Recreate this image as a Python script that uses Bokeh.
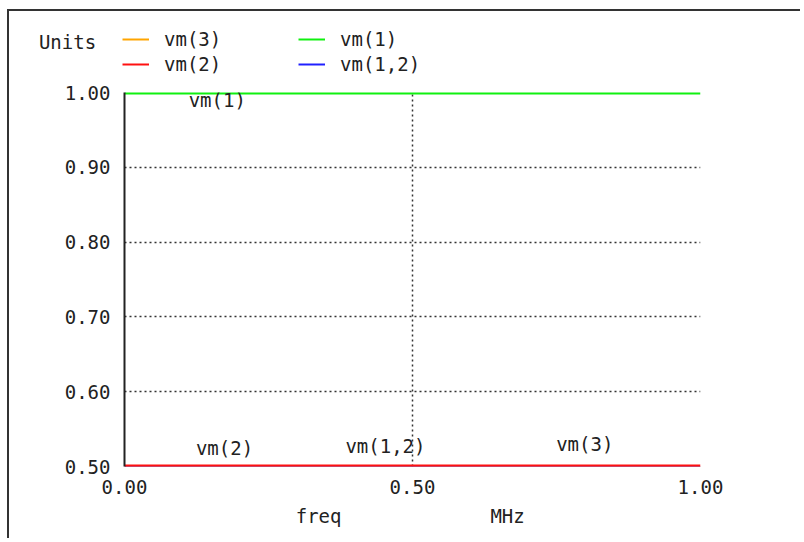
from bokeh.plotting import figure
from bokeh.models import (Range1d, FixedTicker, Legend, LegendItem, Label,
                          CustomJSTickFormatter, LinearAxis)
from bokeh.embed import file_html
from bokeh.resources import INLINE

# ---- data ----
freq = [0.0, 1.0]            # MHz
vm1 = [1.0, 1.0]
vm2 = [0.5, 0.5]
vm3 = [0.5, 0.5]
vm12 = [0.5, 0.5]
x_ticks = [0.0, 0.5, 1.0]
y_ticks = [0.5, 0.6, 0.7, 0.8, 0.9, 1.0]
series = {"vm(3)": vm3, "vm(2)": vm2, "vm(1)": vm1, "vm(1,2)": vm12}
colors = {"vm(3)": "#ffa500", "vm(2)": "#ff1010", "vm(1)": "#10f010", "vm(1,2)": "#2020ff"}

FONT = "DejaVu Sans Mono"
FS = "19px"
TXT = "#222222"
W = 793
BORDER = "2px solid #333333"

# ---------------- header (legend) ----------------
HH = 64
hdr = figure(width=W, height=HH, output_backend="svg", toolbar_location=None,
             x_range=Range1d(0, W), y_range=Range1d(0, HH),
             x_axis_type=None, y_axis_type=None,
             min_border_left=0, min_border_right=0, min_border_top=0, min_border_bottom=0)
hdr.outline_line_color = None
hdr.xgrid.visible = False
hdr.ygrid.visible = False
dummy = {}
for name, vals in series.items():
    dummy[name] = hdr.line(freq, vals, line_color=colors[name], line_width=2, visible=False)

def mk_legend(names, x, y):
    return Legend(items=[LegendItem(label=n, renderers=[dummy[n]]) for n in names],
                  location=(x, y), orientation="vertical",
                  label_text_font=FONT, label_text_font_size=FS, label_text_color=TXT,
                  glyph_width=27, glyph_height=20, label_height=20, label_standoff=15,
                  spacing=3, padding=0, margin=0, border_line_color=None,
                  background_fill_alpha=0, inactive_fill_alpha=0)

hdr.add_layout(mk_legend(["vm(3)", "vm(2)"], 113, 0), "center")
hdr.add_layout(mk_legend(["vm(1)", "vm(1,2)"], 289, 0), "center")
hdr.add_layout(Label(x=58, y=34, text="Units", text_font=FONT, text_font_size=FS,
                     text_color=TXT, text_align="center", text_baseline="middle"))
hdr.styles = {"margin-left": "7px", "margin-top": "9px",
              "border-left": BORDER, "border-top": BORDER}

# ---------------- main plot ----------------
p = figure(width=W, height=465, output_backend="svg", toolbar_location=None,
           x_range=Range1d(0, 1), y_range=Range1d(0.5, 1.0),
           min_border_left=115, min_border_right=W - 115 - 576,
           min_border_top=19, min_border_bottom=72)
p.outline_line_color = None
p.styles = {"margin-left": "7px", "border-left": BORDER}

for ax in (p.xaxis[0], p.yaxis[0]):
    ax.major_tick_line_color = None
    ax.minor_tick_line_color = None
    ax.major_tick_out = 0
    ax.major_tick_in = 0
    ax.major_label_text_font = FONT
    ax.major_label_text_font_size = FS
    ax.major_label_text_color = TXT
    ax.formatter = CustomJSTickFormatter(code="return tick.toFixed(2);")
p.xaxis.ticker = FixedTicker(ticks=x_ticks)
p.yaxis.ticker = FixedTicker(ticks=y_ticks)
p.xaxis.axis_line_color = None
p.xaxis.major_label_standoff = 13
p.yaxis.axis_line_color = "#222222"
p.yaxis.axis_line_width = 2
p.yaxis.major_label_standoff = 14

# second bottom axis carrying the "freq" and "MHz" captions
cap = LinearAxis(ticker=FixedTicker(ticks=[0.337, 0.665]),
                 formatter=CustomJSTickFormatter(code="return tick < 0.5 ? 'freq' : 'MHz';"),
                 axis_line_color=None, major_tick_line_color=None, minor_tick_line_color=None,
                 major_tick_out=0, major_tick_in=0, major_label_standoff=8,
                 major_label_text_font=FONT, major_label_text_font_size=FS,
                 major_label_text_color=TXT)
p.add_layout(cap, "below")

p.xgrid.ticker = FixedTicker(ticks=x_ticks[1:])
p.ygrid.ticker = FixedTicker(ticks=y_ticks[1:-1])
for g in (p.xgrid[0], p.ygrid[0]):
    g.grid_line_color = "#333333"
    g.grid_line_dash = "2 3"
    g.grid_line_width = 1.5

# lines at the frame edges are half clipped, so draw them wider
p.line(freq, vm3, line_color=colors["vm(3)"], line_width=1)
p.line(freq, vm12, line_color=colors["vm(1,2)"], line_width=1)
p.line(freq, vm2, line_color=colors["vm(2)"], line_width=4)
p.line(freq, vm1, line_color=colors["vm(1)"], line_width=4)

def lab(text, x, y):
    p.add_layout(Label(x=x, y=y, text=text, text_font=FONT, text_font_size=FS,
                       text_color=TXT, text_align="center", text_baseline="middle"))

lab("vm(1)", 0.161, 0.990)
lab("vm(2)", 0.1736, 0.5254)
lab("vm(1,2)", 0.453, 0.528)
lab("vm(3)", 0.799, 0.5307)

open("out.html", "w").write(file_html([hdr, p], INLINE))
